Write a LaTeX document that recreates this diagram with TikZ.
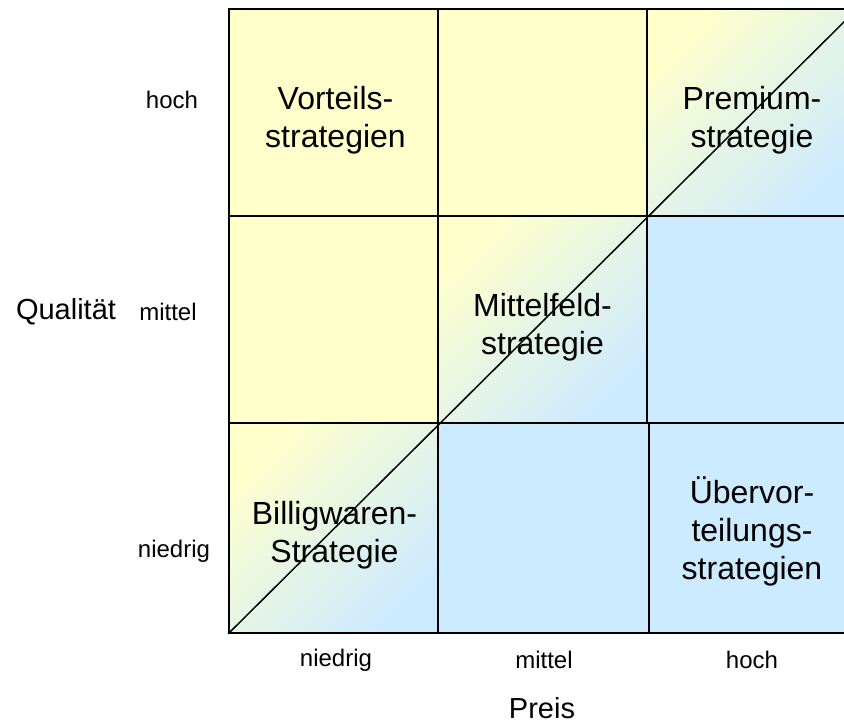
\documentclass[tikz,border=0pt]{standalone}
\usepackage{fontspec}
\setmainfont{Liberation Sans}
\usepackage{xcolor}
\usetikzlibrary{positioning}

\definecolor{cellyellow}{HTML}{FFFFCC}
\definecolor{cellblue}{HTML}{CCEBFF}

\tikzset{
    cell/.style={draw, line width=1.5pt, inner sep=0pt,
        minimum width=209pt, minimum height=207pt},
    yellowcell/.style={cell, fill=cellyellow},
    bluecell/.style={cell, fill=cellblue},
    mixcell/.style={cell, top color=cellyellow, bottom color=cellblue, shading angle=45},
    celltext/.style={align=center, inner sep=0pt, font=\fontsize{32}{38}\selectfont},
    levellabel/.style={inner sep=0pt, font=\fontsize{24}{28}\selectfont},
    axistitle/.style={inner sep=0pt, font=\fontsize{29}{34}\selectfont}
}

\begin{document}
\begin{tikzpicture}[x=1pt, y=-1pt]
    \useasboundingbox (0,0) rectangle (844,725);
    \clip (0,0) rectangle (844,725);

    % Top row (hohe Qualitaet)
    \node[yellowcell] (vorteil) at (333.5,112.5) {};
    \node[yellowcell] (hochmittel) at (542.5,112.5) {};
    \node[mixcell, minimum width=210pt] (premium) at (752,112.5) {};

    % Middle row
    \node[yellowcell] (mittelniedrig) at (333.5,319.5) {};
    \node[mixcell] (mittelfeld) at (542.5,319.5) {};
    \node[bluecell, minimum width=210pt] (mittelhoch) at (752,319.5) {};

    % Bottom row
    \node[mixcell, minimum height=210pt] (billig) at (333.5,528) {};
    \node[bluecell, minimum height=210pt, minimum width=211pt] (niedrigmittel) at (543.5,528) {};
    \node[bluecell, minimum height=210pt, minimum width=208pt] (uebervor) at (753,528) {};

    % Strategy names
    \node[celltext] (vorteiltext) at ([xshift=2pt, yshift=-8pt]vorteil.center) {Vorteils-\\strategien};
    \node[celltext] (premiumtext) at ([yshift=-8pt]premium.center) {Premium-\\strategie};
    \node[celltext] (mittelfeldtext) at ([yshift=-8pt]mittelfeld.center) {Mittelfeld-\\strategie};
    \node[celltext] (billigtext) at ([xshift=1pt, yshift=-7pt]billig.center) {Billigwaren-\\Strategie};
    \node[celltext] (uebervortext) at ([xshift=-1pt, yshift=-3pt]uebervor.center) {\"Ubervor-\\teilungs-\\strategien};

    % Diagonal
    \draw[line width=1.5pt] (billig.south west) -- (premium.north east);

    % Quality axis
    \node[levellabel] (qhoch) at (172,100) {hoch};
    \node[levellabel] (qmittel) at (168,312) {mittel};
    \node[levellabel] (qniedrig) at (174,551) {niedrig};
    \node[axistitle] (qualitaet) at (66,312) {Qualit\"at};

    % Price axis
    \node[levellabel] (pniedrig) at (336,660) {niedrig};
    \node[levellabel] (pmittel) at (544,660) {mittel};
    \node[levellabel] (phoch) at (752,660) {hoch};
    \node[axistitle] (preis) at (542,708) {Preis};

\end{tikzpicture}
\end{document}
